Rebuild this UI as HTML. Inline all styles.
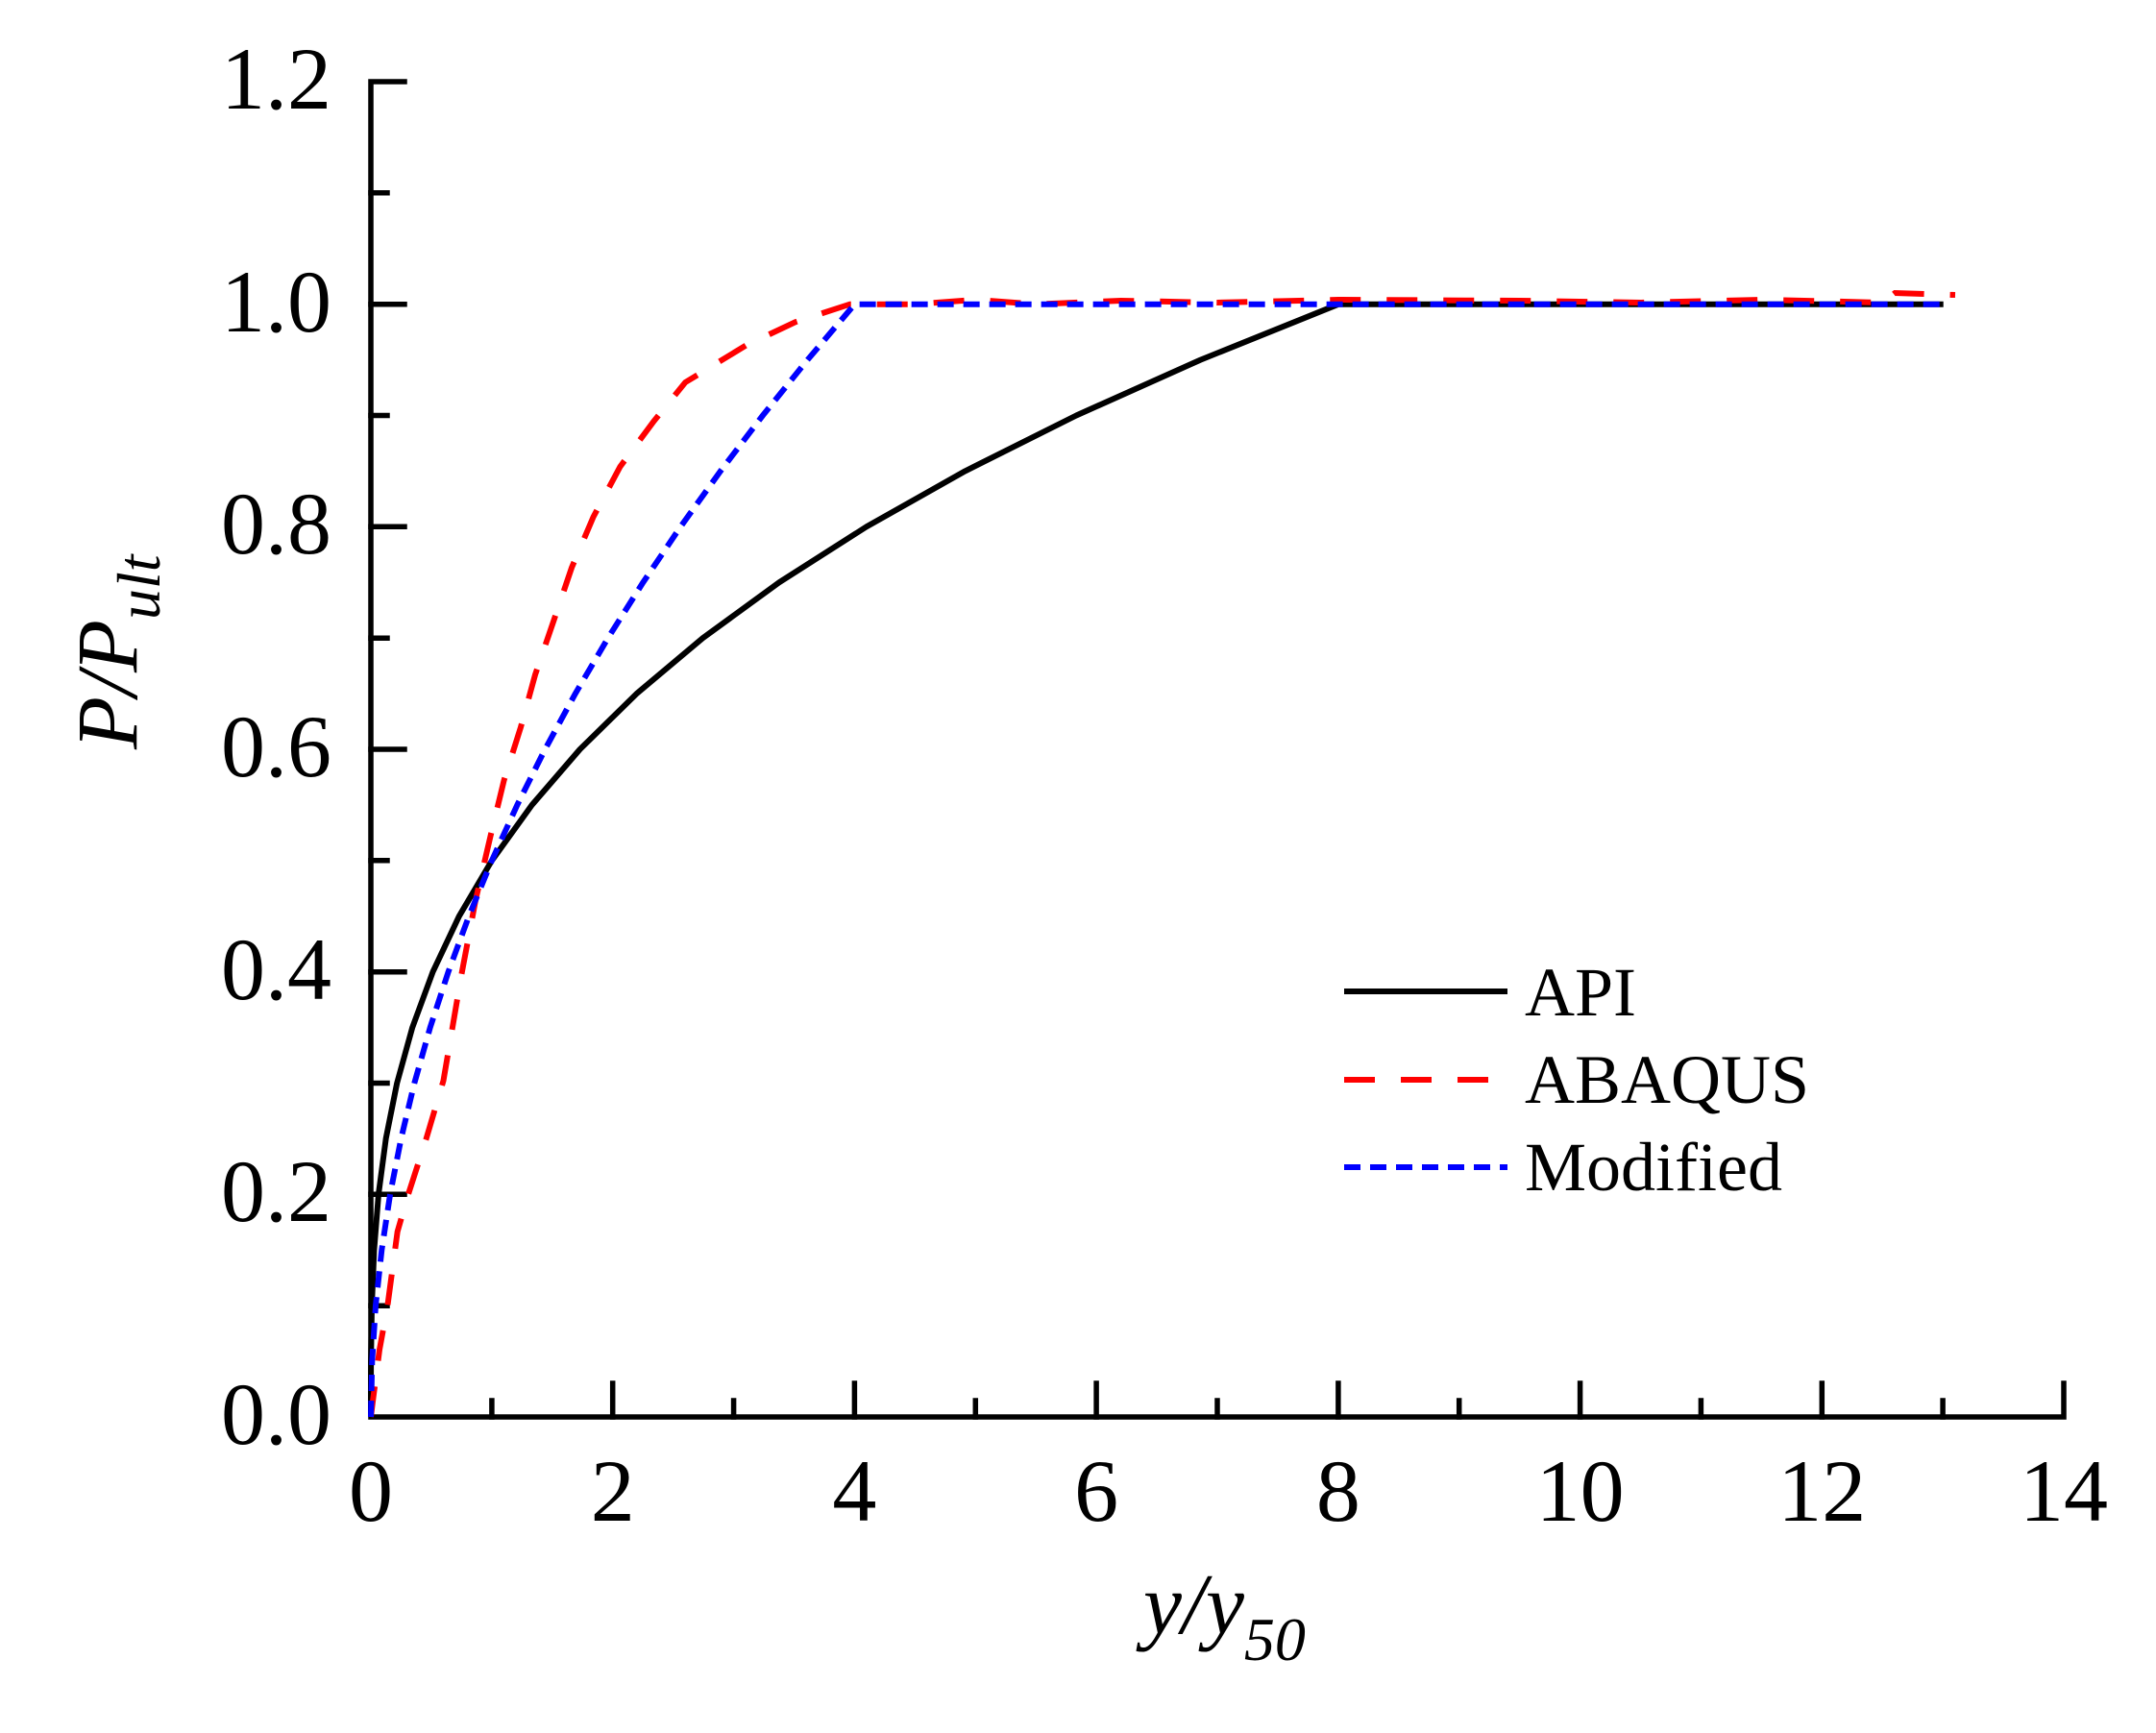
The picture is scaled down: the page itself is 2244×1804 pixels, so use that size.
<!DOCTYPE html>
<html><head><meta charset="utf-8"><style>
html,body{margin:0;padding:0;background:#fff;}
svg{display:block;}
text{font-family:"Liberation Serif",serif;fill:#000;}
</style></head><body>
<svg width="2244" height="1804" viewBox="0 0 2244 1804" xmlns="http://www.w3.org/2000/svg">
<rect width="2244" height="1804" fill="#fff"/>
<g stroke="#000" stroke-width="5.5" fill="none" stroke-linecap="square">
<polyline points="421,85 386,85 386,1475 2148,1475 2148,1440"/>
<line x1="386" y1="316.7" x2="421" y2="316.7"/>
<line x1="386" y1="548.3" x2="421" y2="548.3"/>
<line x1="386" y1="780" x2="421" y2="780"/>
<line x1="386" y1="1011.7" x2="421" y2="1011.7"/>
<line x1="386" y1="1243.3" x2="421" y2="1243.3"/>
<line x1="386" y1="200.8" x2="403" y2="200.8"/>
<line x1="386" y1="432.5" x2="403" y2="432.5"/>
<line x1="386" y1="664.2" x2="403" y2="664.2"/>
<line x1="386" y1="895.8" x2="403" y2="895.8"/>
<line x1="386" y1="1127.5" x2="403" y2="1127.5"/>
<line x1="386" y1="1359.2" x2="403" y2="1359.2"/>
<line x1="637.7" y1="1475" x2="637.7" y2="1440"/>
<line x1="889.4" y1="1475" x2="889.4" y2="1440"/>
<line x1="1141.1" y1="1475" x2="1141.1" y2="1440"/>
<line x1="1392.9" y1="1475" x2="1392.9" y2="1440"/>
<line x1="1644.6" y1="1475" x2="1644.6" y2="1440"/>
<line x1="1896.3" y1="1475" x2="1896.3" y2="1440"/>
<line x1="511.9" y1="1475" x2="511.9" y2="1458"/>
<line x1="763.6" y1="1475" x2="763.6" y2="1458"/>
<line x1="1015.3" y1="1475" x2="1015.3" y2="1458"/>
<line x1="1267" y1="1475" x2="1267" y2="1458"/>
<line x1="1518.7" y1="1475" x2="1518.7" y2="1458"/>
<line x1="1770.4" y1="1475" x2="1770.4" y2="1458"/>
<line x1="2022.1" y1="1475" x2="2022.1" y2="1458"/>
</g>
<g font-size="92" text-anchor="end">
<text x="345" y="113">1.2</text>
<text x="345" y="345">1.0</text>
<text x="345" y="576">0.8</text>
<text x="345" y="808">0.6</text>
<text x="345" y="1040">0.4</text>
<text x="345" y="1271">0.2</text>
<text x="345" y="1503">0.0</text>
</g>
<g font-size="92" text-anchor="middle">
<text x="386" y="1583">0</text>
<text x="637.7" y="1583">2</text>
<text x="889.4" y="1583">4</text>
<text x="1141.1" y="1583">6</text>
<text x="1392.9" y="1583">8</text>
<text x="1644.6" y="1583">10</text>
<text x="1896.3" y="1583">12</text>
<text x="2148" y="1583">14</text>
</g>
<text x="1190" y="1700" font-size="90" font-style="italic">y/y<tspan font-size="64" dy="28">50</tspan></text>
<text transform="translate(142,780) rotate(-90)" font-size="90" font-style="italic">P/P<tspan font-size="64" dy="24">ult</tspan></text>
<polyline fill="none" stroke="#000" stroke-width="6" stroke-linejoin="round" points="386,1475 386.1,1417 387,1359 389.4,1301 394,1243 401.7,1185 413.2,1127.5 429.2,1069.6 450.5,1011.7 477.8,953.8 511.9,895.9 553.6,838 603.6,780 662.6,722.1 731.5,664.2 810.9,606.3 901.7,548.4 1004.5,490.4 1120.2,432.5 1249.5,374.6 1393.2,316.7 2022.7,316.7"/>
<polyline fill="none" stroke="#ff0000" stroke-width="6" stroke-dasharray="32 27" points="386,1475 388.5,1455 395,1405 403.4,1359 413.7,1282 425,1243 443.3,1186.5 461.5,1125 480.4,1014 495,937 510.6,870 524.5,812.5 542,757 557,702.4 576,647 595,591 617.6,538 645.4,485.8 680.6,438.3 713.3,398 776.3,359.6 828,335.2 884.6,316.7 952.6,316.7 1015.5,312 1078.5,316.7 1166.6,313 1267,315 1393,312 1582,313 1708,315 1834,312 1960,315 1972.3,305 2035,307"/>
<polyline fill="none" stroke="#0000ff" stroke-width="6" stroke-dasharray="17 10" points="386,1475 387.3,1417 391,1359 397.3,1301 406.1,1243 417.5,1185 431.3,1127.5 447.7,1069.6 466.6,1011.7 488,953.8 511.9,895.9 538.3,838 567.3,780 598.8,722.1 632.8,664.2 669.3,606.3 708.3,548.4 749.9,490.4 793.9,432.5 840.5,374.6 889.6,316.7 2022.7,316.7"/>
<line x1="1399" y1="1032" x2="1569" y2="1032" stroke="#000" stroke-width="6"/>
<line x1="1399" y1="1124" x2="1569" y2="1124" stroke="#ff0000" stroke-width="6" stroke-dasharray="32 27"/>
<line x1="1399" y1="1215" x2="1569" y2="1215" stroke="#0000ff" stroke-width="6" stroke-dasharray="17 10"/>
<g font-size="72">
<text x="1587" y="1057">API</text>
<text x="1587" y="1148">ABAQUS</text>
<text x="1587" y="1239">Modified</text>
</g>
</svg>
</body></html>
